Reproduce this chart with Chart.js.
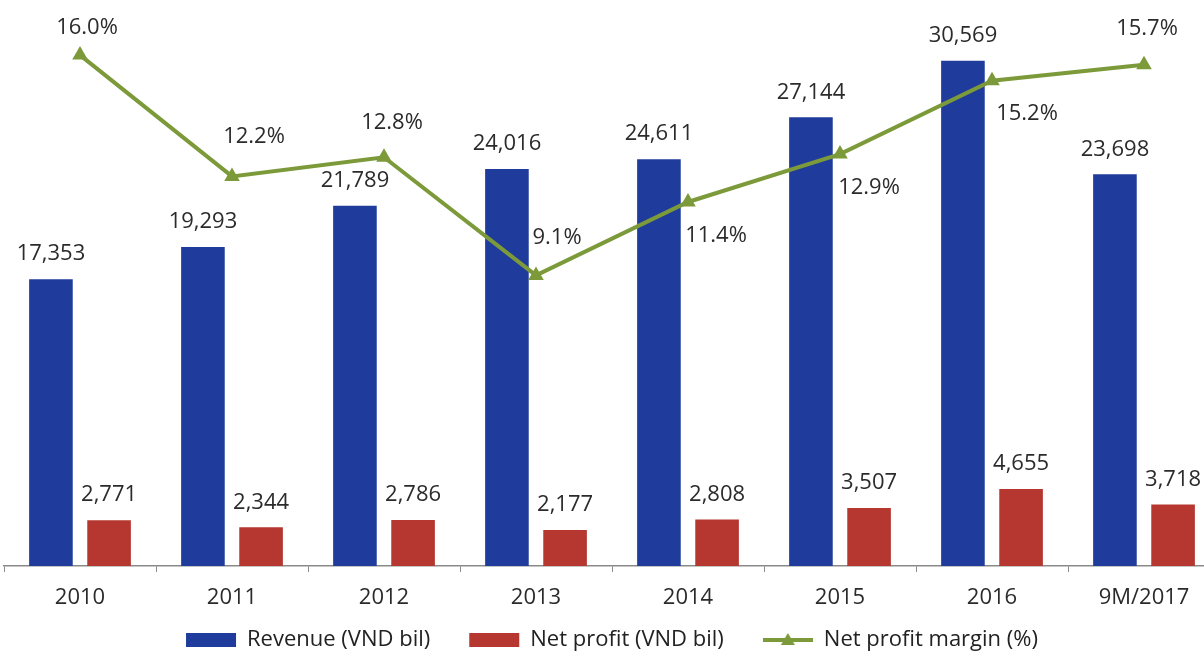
<!DOCTYPE html>
<html>
<head>
<meta charset="utf-8">
<script src="https://cdn.jsdelivr.net/npm/chart.js@4"></script>
<style>
  html, body { margin: 0; padding: 0; background: #fff; overflow: hidden; }
</style>
</head>
<body>
<canvas id="myChart" width="1224" height="661"></canvas>
<script>
// data block
let years = ['2010', '2011', '2012', '2013', '2014', '2015', '2016', '9M/2017'];
let revenue = [17353, 19293, 21789, 24016, 24611, 27144, 30569, 23698];
let netProfit = [2771, 2344, 2786, 2177, 2808, 3507, 4655, 3718];
let margin = [16.0, 12.2, 12.8, 9.1, 11.4, 12.9, 15.2, 15.7];

let blue = '#1f3b9b';
let red = '#b5372f';
let green = '#7c9a3a';
let font = 'Open Sans';
let gap = '\u2002\u2002'; // extra room between legend entries

// little line + triangle swatch for the legend
function lineSwatch() {
    let c = document.createElement('canvas');
    c.width = 50; c.height = 16;
    let g = c.getContext('2d');
    g.strokeStyle = green; g.lineWidth = 4;
    g.beginPath(); g.moveTo(0, 8); g.lineTo(50, 8); g.stroke();
    g.fillStyle = green;
    g.beginPath(); g.moveTo(25, 1); g.lineTo(32, 13); g.lineTo(18, 13); g.closePath(); g.fill();
    return c;
}

// value labels above bars / next to points
const valueLabels = {
    id: 'valueLabels',
    afterDatasetsDraw(chart) {
        const ctx = chart.ctx;
        ctx.save();
        ctx.font = '22px ' + font;
        ctx.fillStyle = '#2b2b2b';
        ctx.textAlign = 'center';
        ctx.textBaseline = 'middle';
        [0, 1].forEach(di => {
            chart.getDatasetMeta(di).data.forEach((bar, i) => {
                let v = chart.data.datasets[di].data[i];
                ctx.fillText(v.toLocaleString('en-US'), bar.x, bar.y - 25);
            });
        });
        // where excel put each margin label relative to its point
        const shift = [[7, -27], [22, -40], [8, -35], [21, -38], [28, 34], [29, 34], [35, 33], [3, -36]];
        chart.getDatasetMeta(2).data.forEach((pt, i) => {
            ctx.fillText(margin[i].toFixed(1) + '%', pt.x + shift[i][0], pt.y + shift[i][1]);
        });
        ctx.restore();
    }
};

let data = {
    labels: years,
    datasets: [{
        type: 'bar',
        label: 'Revenue (VND bil)',
        data: revenue,
        backgroundColor: blue,
        yAxisID: 'y',
        order: 1,
        barPercentage: 0.75,
        categoryPercentage: 0.765
    },
    {
        type: 'bar',
        label: 'Net profit (VND bil)',
        data: netProfit,
        backgroundColor: red,
        yAxisID: 'y',
        order: 1,
        barPercentage: 0.75,
        categoryPercentage: 0.765
    },
    {
        type: 'line',
        label: 'Net profit margin (%)',
        data: margin,
        borderColor: green,
        backgroundColor: green,
        borderWidth: 4,
        pointStyle: 'triangle',
        pointRadius: 9,
        pointBorderWidth: 0,
        tension: 0,
        yAxisID: 'y1',
        order: 0
    }]
};

let config = {
    type: 'bar',
    data,
    options: {
        responsive: false,
        animation: false,
        layout: { autoPadding: false, padding: { top: 4, left: 4, right: 4, bottom: 0 } },
        scales: {
            x: {
                grid: { drawOnChartArea: false, drawTicks: true, tickLength: 6, color: '#8a8a8a' },
                border: { display: true, color: '#8a8a8a', width: 1.5 },
                ticks: { color: '#2b2b2b', font: { family: font, size: 22, lineHeight: 1 }, padding: 15 },
                afterFit: scale => { scale.height = 46; }
            },
            y: { display: false, min: 0, max: 34000 },
            y1: { display: false, min: 0, max: 17.6, position: 'right' }
        },
        plugins: {
            tooltip: { enabled: false },
            legend: {
                position: 'bottom',
                labels: {
                    usePointStyle: true,
                    pointStyleWidth: 50,
                    boxHeight: 14,
                    padding: 17,
                    color: '#222',
                    font: { family: font, size: 22 },
                    generateLabels: () => [
                        { text: 'Revenue (VND bil)' + gap, fillStyle: blue, strokeStyle: blue, lineWidth: 0, pointStyle: 'rect', datasetIndex: 0, fontColor: '#222' },
                        { text: 'Net profit (VND bil)' + gap, fillStyle: red, strokeStyle: red, lineWidth: 0, pointStyle: 'rect', datasetIndex: 1, fontColor: '#222' },
                        { text: 'Net profit margin (%)', fillStyle: green, strokeStyle: green, lineWidth: 0, pointStyle: lineSwatch(), datasetIndex: 2, fontColor: '#222' }
                    ]
                }
            }
        }
    },
    plugins: [valueLabels]
};

let myChart = new Chart(document.getElementById('myChart'), config);
</script>
</body>
</html>
